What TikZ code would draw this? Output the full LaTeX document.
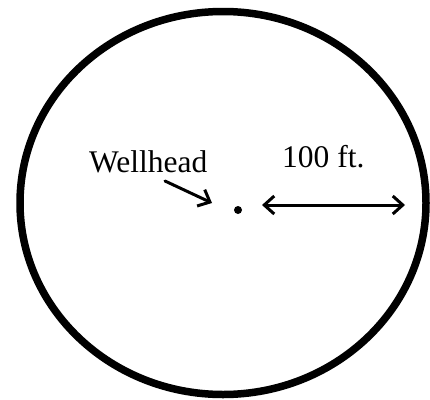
\documentclass[tikz,border=0pt]{standalone}
\usepackage{fontspec}
\setmainfont{Liberation Serif}
\usetikzlibrary{arrows.meta}
\begin{document}
\begin{tikzpicture}[x=1pt,y=-1pt,
  lbl/.style={font=\fontsize{31.5}{36}\selectfont, inner sep=0pt, anchor=base west},
  tip/.style={},
  ptr/.style={line width=3pt, line cap=round, -{Straight Barb[length=10pt,width=18pt,line width=3pt]}},
  dptr/.style={line width=3pt, {Straight Barb[length=10pt,width=18pt,line width=3pt]}-{Straight Barb[length=10pt,width=18pt,line width=3pt]}}]
\useasboundingbox (0,0) rectangle (430,399);
\draw[line width=7.5pt] (223,203) ellipse [x radius=203pt, y radius=191.5pt];
\fill (238,210) circle [radius=4pt];
\node[lbl] (wh) at (89,172) {Wellhead};
\node[lbl] (ft) at (282,167) {100 ft.};
\coordinate (ws) at (165,181);
\coordinate (we) at (212,203);
\draw[ptr] (ws) -- (we);
\coordinate (dl) at (262,205);
\coordinate (dr) at (405,205);
\draw[dptr] (dl) -- (dr);
\end{tikzpicture}
\end{document}
